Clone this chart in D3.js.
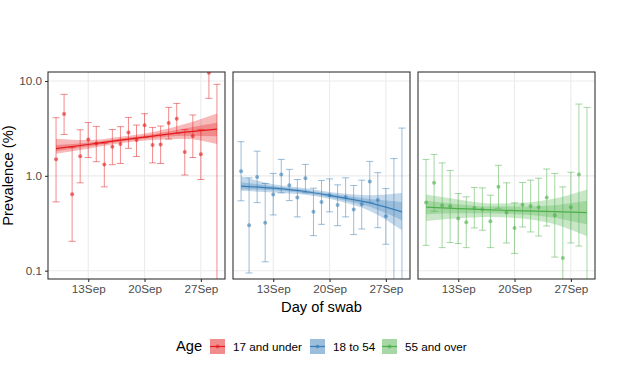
<!DOCTYPE html>
<html>
<head>
<meta charset="utf-8">
<script src="https://cdnjs.cloudflare.com/ajax/libs/d3/7.8.5/d3.min.js"></script>
<style>
  body { margin: 0; background: #fff; }
  text { font-family: "Liberation Sans", Arial, sans-serif; }
</style>
</head>
<body>
<div id="chart"></div>
<script>
// values (prevalence %, day of September)

let ageGroups = ["17 and under", "18 to 54", "55 and over"];
let ageColors = ["#E41A1C", "#377EB8", "#4DAF4A"];

let swabDays = [9, 10, 11, 12, 13, 14, 15, 16, 17, 18, 19, 20, 21, 22, 23, 24, 25, 26, 27, 28, 29];

// 17 and under
let prevYoung = [1.50, 4.48, 0.64, 1.61, 2.42, 2.19, 1.32, 2.02, 2.16, 2.87, 2.38, 3.41, 2.12, 2.14, 3.60, 4.00, 1.78, 2.63, 1.69, 12.2, null];
let upperYoung = [4.10, 7.23, 1.99, 3.06, 3.65, 3.32, 2.20, 3.08, 3.30, 4.13, 3.43, 4.52, 3.24, 3.35, 5.27, 5.80, 3.08, 4.38, 3.08, 20, 9.22];
let lowerYoung = [0.531, 2.73, 0.204, 0.844, 1.56, 1.41, 0.765, 1.31, 1.35, 1.95, 1.60, 2.54, 1.37, 1.35, 2.44, 2.80, 1.02, 1.56, 0.915, 6.56, 0.05];

// 18 to 54
let prevMid = [1.12, 0.302, 0.975, 0.321, 0.635, 1.03, 0.797, 0.59, 0.945, 0.417, 0.531, 0.625, 0.494, 0.596, 0.441, 0.502, 0.871, 0.557, 0.375, null, null];
let upperMid = [2.29, 0.953, 1.82, 0.83, 1.06, 1.49, 1.17, 0.914, 1.32, 0.741, 0.893, 0.929, 0.803, 0.953, 0.791, 0.90, 1.42, 1.08, 0.734, 1.52, 3.19];
let lowerMid = [0.545, 0.0945, 0.522, 0.124, 0.387, 0.661, 0.548, 0.369, 0.661, 0.234, 0.308, 0.417, 0.298, 0.369, 0.240, 0.275, 0.527, 0.284, 0.190, 0.05, 0.05];

// 55 and over
let prevOld = [0.523, 0.844, 0.486, 0.478, 0.354, 0.324, 0.459, 0.444, 0.332, 0.765, 0.410, 0.282, 0.497, 0.482, 0.467, 0.59, 0.385, 0.136, 0.467, 1.03, null];
let upperOld = [1.49, 1.68, 1.37, 1.14, 0.65, 0.60, 0.753, 0.746, 0.625, 1.29, 0.844, 0.519, 0.851, 0.90, 0.944, 1.18, 1.06, 0.765, 1.09, 5.71, 5.27];
let lowerOld = [0.185, 0.423, 0.175, 0.198, 0.193, 0.175, 0.282, 0.267, 0.175, 0.455, 0.196, 0.152, 0.289, 0.256, 0.232, 0.296, 0.139, 0.05, 0.196, 0.182, 0.05];

// fitted trend with inner and outer bands
let fitDays = [9, 13, 17, 21, 25, 29];

let fitYoung = [1.94, 2.14, 2.38, 2.62, 2.89, 3.11];
let innerLoYoung = [1.82, 2.04, 2.29, 2.50, 2.65, 2.62];
let innerHiYoung = [2.11, 2.23, 2.48, 2.75, 3.16, 3.63];
let outerLoYoung = [1.71, 1.93, 2.20, 2.38, 2.46, 2.16];
let outerHiYoung = [2.46, 2.38, 2.58, 2.89, 3.51, 4.55];

let fitMid = [0.778, 0.741, 0.684, 0.60, 0.519, 0.417];
let innerLoMid = [0.723, 0.705, 0.656, 0.571, 0.471, 0.34];
let innerHiMid = [0.857, 0.778, 0.71, 0.63, 0.571, 0.531];
let outerLoMid = [0.695, 0.667, 0.63, 0.545, 0.427, 0.267];
let outerHiMid = [0.99, 0.817, 0.741, 0.661, 0.625, 0.661];

let fitOld = [0.467, 0.452, 0.437, 0.427, 0.42, 0.41];
let innerLoOld = [0.394, 0.403, 0.403, 0.39, 0.36, 0.308];
let innerHiOld = [0.545, 0.502, 0.474, 0.474, 0.49, 0.545];
let outerLoOld = [0.335, 0.357, 0.369, 0.354, 0.308, 0.23];
let outerHiOld = [0.635, 0.562, 0.51, 0.519, 0.576, 0.717];

let xTickDays = [13, 20, 27];
let yTickValues = [0.1, 1, 10];

// build one table per panel
let panels = [
  {prev: prevYoung, up: upperYoung, lo: lowerYoung, fit: fitYoung, iLo: innerLoYoung, iHi: innerHiYoung, oLo: outerLoYoung, oHi: outerHiYoung},
  {prev: prevMid, up: upperMid, lo: lowerMid, fit: fitMid, iLo: innerLoMid, iHi: innerHiMid, oLo: outerLoMid, oHi: outerHiMid},
  {prev: prevOld, up: upperOld, lo: lowerOld, fit: fitOld, iLo: innerLoOld, iHi: innerHiOld, oLo: outerLoOld, oHi: outerHiOld}
];

// sizes
let svgWidth = 620;
let svgHeight = 379;
let panelLefts = [48, 233, 418];
let panelTop = 72;
let panelWidth = 177;
let panelHeight = 207;

let day = d => new Date(2020, 8, d);

let svg = d3.select("#chart")
  .append("svg")
  .attr("width", svgWidth)
  .attr("height", svgHeight);

let xScale = d3.scaleTime()
  .domain([day(8), day(30)])
  .range([0, panelWidth]);

let yScale = d3.scaleLog()
  .domain([0.0817, 12.44])
  .range([panelHeight, 0]);

svg.append("defs").append("clipPath")
  .attr("id", "panelClip")
  .append("rect")
  .attr("width", panelWidth)
  .attr("height", panelHeight);

panels.forEach(function(p, i) {
  let color = ageColors[i];
  let g = svg.append("g")
    .attr("transform", `translate(${panelLefts[i]}, ${panelTop})`);

  // grid
  g.selectAll(".hgrid").data(yTickValues).enter()
    .append("line")
    .attr("x1", 0).attr("x2", panelWidth)
    .attr("y1", d => yScale(d)).attr("y2", d => yScale(d))
    .attr("stroke", "#EBEBEB").attr("stroke-width", 1.1);

  g.selectAll(".vgrid").data(xTickDays).enter()
    .append("line")
    .attr("x1", d => xScale(day(d))).attr("x2", d => xScale(day(d)))
    .attr("y1", 0).attr("y2", panelHeight)
    .attr("stroke", "#EBEBEB").attr("stroke-width", 1.1);

  let plot = g.append("g").attr("clip-path", "url(#panelClip)");

  let rows = swabDays.map((d, k) => ({day: d, prev: p.prev[k], up: p.up[k], lo: p.lo[k]}));
  let fitRows = fitDays.map((d, k) => ({day: d, fit: p.fit[k], iLo: p.iLo[k], iHi: p.iHi[k], oLo: p.oLo[k], oHi: p.oHi[k]}));

  // error bars
  let bars = plot.selectAll(".bar").data(rows).enter().append("g")
    .attr("stroke", color).attr("stroke-opacity", 0.5).attr("stroke-width", 1);

  bars.append("line")
    .attr("x1", d => xScale(day(d.day))).attr("x2", d => xScale(day(d.day)))
    .attr("y1", d => yScale(d.up)).attr("y2", d => yScale(d.lo));
  bars.append("line")
    .attr("x1", d => xScale(day(d.day)) - 3.5).attr("x2", d => xScale(day(d.day)) + 3.5)
    .attr("y1", d => yScale(d.up)).attr("y2", d => yScale(d.up));
  bars.append("line")
    .attr("x1", d => xScale(day(d.day)) - 3.5).attr("x2", d => xScale(day(d.day)) + 3.5)
    .attr("y1", d => yScale(d.lo)).attr("y2", d => yScale(d.lo));

  // points
  plot.selectAll(".pt").data(rows.filter(d => d.prev != null)).enter()
    .append("circle")
    .attr("cx", d => xScale(day(d.day)))
    .attr("cy", d => yScale(d.prev))
    .attr("r", 2)
    .attr("fill", color)
    .attr("fill-opacity", 0.6);

  // bands
  let outerArea = d3.area()
    .x(d => xScale(day(d.day)))
    .y0(d => yScale(d.oLo)).y1(d => yScale(d.oHi))
    .curve(d3.curveMonotoneX);
  let innerArea = d3.area()
    .x(d => xScale(day(d.day)))
    .y0(d => yScale(d.iLo)).y1(d => yScale(d.iHi))
    .curve(d3.curveMonotoneX);
  let fitLine = d3.line()
    .x(d => xScale(day(d.day)))
    .y(d => yScale(d.fit))
    .curve(d3.curveMonotoneX);

  plot.append("path").datum(fitRows)
    .attr("d", outerArea).attr("fill", color).attr("fill-opacity", 0.3);
  plot.append("path").datum(fitRows)
    .attr("d", innerArea).attr("fill", color).attr("fill-opacity", 0.3);
  plot.append("path").datum(fitRows)
    .attr("d", fitLine).attr("fill", "none").attr("stroke", color).attr("stroke-width", 1.2);

  // panel border
  g.append("rect")
    .attr("width", panelWidth).attr("height", panelHeight)
    .attr("fill", "none").attr("stroke", "#333333").attr("stroke-width", 1.1);

  // x axis
  let xAxis = d3.axisBottom(xScale)
    .tickValues(xTickDays.map(day))
    .tickFormat(d3.timeFormat("%d%b"))
    .tickSize(3).tickPadding(3);
  let xg = g.append("g")
    .attr("transform", `translate(0, ${panelHeight})`)
    .call(xAxis);
  xg.select(".domain").remove();
  xg.selectAll("line").attr("stroke", "#333333").attr("stroke-width", 1.1);
  xg.selectAll("text")
    .attr("fill", "#4D4D4D").style("font-size", "11.7px")
    .style("font-family", "'Liberation Sans', Arial, sans-serif");
});

// y axis on first panel
let yAxis = d3.axisLeft(yScale)
  .tickValues(yTickValues)
  .tickFormat(d3.format(".1f"))
  .tickSize(3).tickPadding(3);
let yg = svg.append("g")
  .attr("transform", `translate(${panelLefts[0]}, ${panelTop})`)
  .call(yAxis);
yg.select(".domain").remove();
yg.selectAll("line").attr("stroke", "#333333").attr("stroke-width", 1.1);
yg.selectAll("text")
  .attr("fill", "#4D4D4D").style("font-size", "11.7px")
  .style("font-family", "'Liberation Sans', Arial, sans-serif");

// axis titles
svg.append("text")
  .attr("x", (panelLefts[0] + panelLefts[2] + panelWidth) / 2)
  .attr("y", 312)
  .style("text-anchor", "middle")
  .style("font-size", "14.7px")
  .text("Day of swab");

svg.append("text")
  .attr("transform", "rotate(-90)")
  .attr("x", -(panelTop + panelHeight / 2))
  .attr("y", 13)
  .style("text-anchor", "middle")
  .style("font-size", "14.7px")
  .text("Prevalence (%)");

// legend
let legend = svg.append("g");
legend.append("text")
  .attr("x", 176).attr("y", 351)
  .style("font-size", "14.7px")
  .text("Age");

let keyX = [210, 310, 382];
ageGroups.forEach(function(name, i) {
  let k = legend.append("g").attr("transform", `translate(${keyX[i]}, 339)`);
  k.append("rect")
    .attr("width", 15).attr("height", 15)
    .attr("fill", ageColors[i]).attr("fill-opacity", 0.5);
  k.append("line")
    .attr("x1", 0).attr("x2", 15).attr("y1", 7.5).attr("y2", 7.5)
    .attr("stroke", ageColors[i]).attr("stroke-width", 1.2);
  k.append("circle")
    .attr("cx", 7.5).attr("cy", 7.5).attr("r", 2)
    .attr("fill", ageColors[i]).attr("fill-opacity", 0.6);
  k.append("text")
    .attr("x", 23).attr("y", 11.5)
    .style("font-size", "11.7px")
    .attr("fill", "#000")
    .text(name);
});
</script>
</body>
</html>
